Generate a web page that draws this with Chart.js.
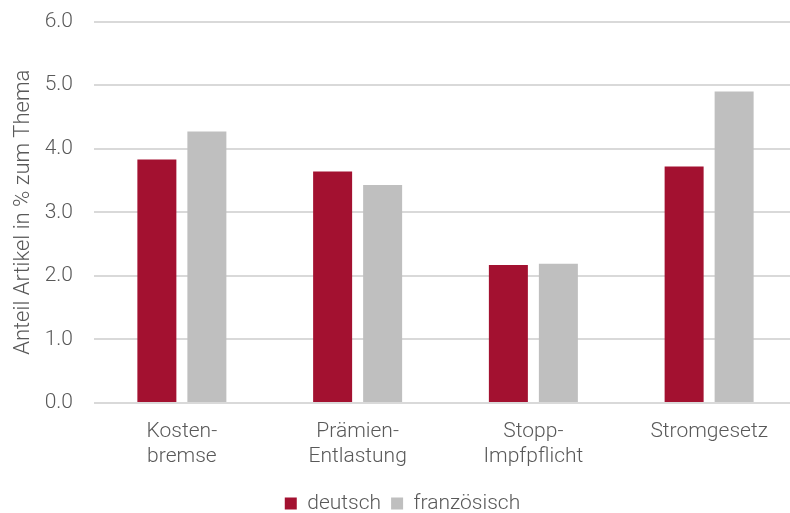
<!DOCTYPE html>
<html>
<head>
<meta charset="utf-8">
<script src="https://cdn.jsdelivr.net/npm/chart.js@4"></script>
<style>
  html, body { margin: 0; padding: 0; background: #fff; overflow: hidden; }
  #wrap { width: 790px; height: 513px; overflow: hidden; }
  #chart { display: block; margin-top: -12px; }
</style>
</head>
<body>
<div id="wrap"><canvas id="chart" width="797" height="536"></canvas></div>
<script>
const categories = [["Kosten-", "bremse"], ["Prämien-", "Entlastung"], ["Stopp-", "Impfpflicht"], "Stromgesetz"];
const deutsch = [3.83, 3.64, 2.17, 3.72];
const franzoesisch = [4.27, 3.43, 2.19, 4.90];

const textColor = "#595959";
const fontFamily = "Roboto, 'Liberation Sans', sans-serif";

const ctx = document.getElementById("chart").getContext("2d");
new Chart(ctx, {
  type: "bar",
  data: {
    labels: categories,
    datasets: [
      {
        label: "deutsch",
        data: deutsch,
        backgroundColor: "#a31130",
        categoryPercentage: 0.569,
        barPercentage: 0.78,
      },
      {
        label: "französisch",
        data: franzoesisch,
        backgroundColor: "#bfbfbf",
        categoryPercentage: 0.569,
        barPercentage: 0.78,
      },
    ],
  },
  options: {
    responsive: false,
    animation: false,
    layout: { padding: { top: 0, right: 0, left: 8, bottom: 0 } },
    scales: {
      x: {
        grid: { display: false },
        border: { display: false },
        ticks: {
          color: textColor,
          font: { family: fontFamily, size: 21, weight: 300, lineHeight: 1.2 },
          padding: 8,
          maxRotation: 0,
        },
        afterFit: (scale) => {
          scale.height = 80;
        },
      },
      y: {
        min: 0,
        max: 6,
        ticks: {
          stepSize: 1,
          color: textColor,
          font: { family: fontFamily, size: 21, weight: 300 },
          padding: 21,
          callback: (v) => v.toFixed(1),
        },
        grid: { color: "#d9d9d9", lineWidth: 2, drawTicks: false },
        border: { display: false },
        title: {
          display: true,
          text: "Anteil Artikel in % zum Thema",
          color: textColor,
          font: { family: fontFamily, size: 22, weight: 300 },
          padding: { top: 2, bottom: 4 },
        },
        afterFit: (scale) => {
          scale.width = 86;
        },
      },
    },
    plugins: {
      legend: {
        position: "bottom",
        labels: {
          color: textColor,
          font: { family: fontFamily, size: 21, weight: 300 },
          boxWidth: 12,
          boxHeight: 12,
          padding: 10,
        },
      },
      tooltip: { enabled: false },
    },
  },
});
</script>
</body>
</html>
